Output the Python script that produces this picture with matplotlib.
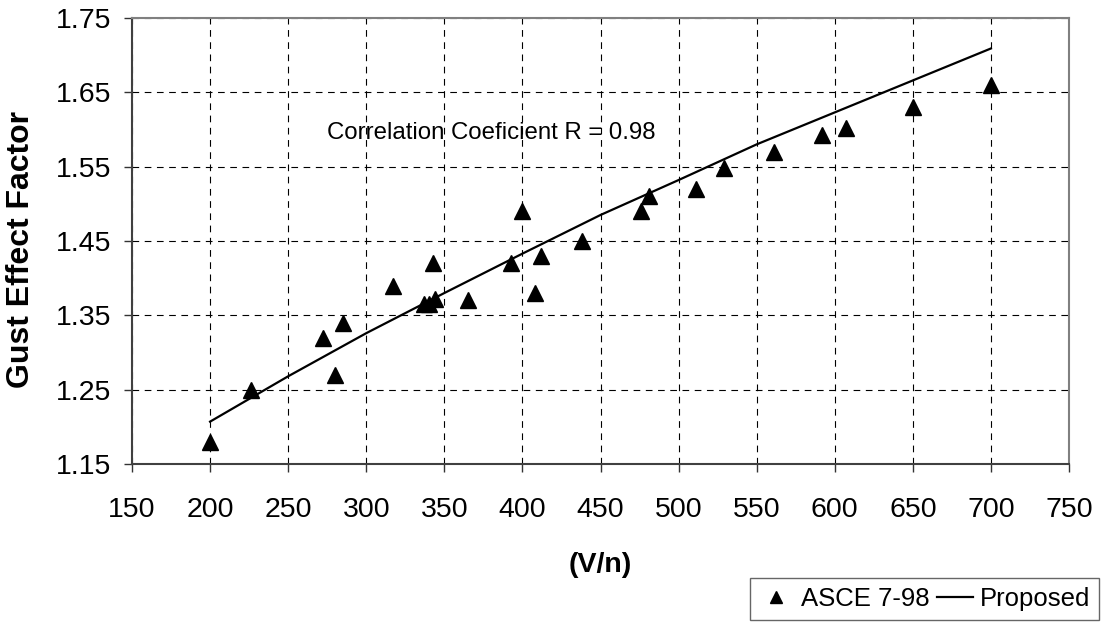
import matplotlib
matplotlib.use("Agg")
import matplotlib.pyplot as plt
from matplotlib.lines import Line2D

plt.rcParams['font.family'] = ['Liberation Sans', 'DejaVu Sans']

# ASCE 7-98 data points
x_asce = [200, 226, 272, 285, 280, 317, 342.5, 337, 340, 344, 365, 393, 400,
          408, 412, 438, 476, 481, 511, 529, 561, 592, 607.5, 650, 700]
y_asce = [1.18, 1.25, 1.32, 1.34, 1.27, 1.39, 1.42, 1.365, 1.365, 1.372, 1.37,
          1.42, 1.49, 1.38, 1.43, 1.45, 1.49, 1.51, 1.52, 1.548, 1.57, 1.592,
          1.602, 1.63, 1.66]

# Proposed curve
x_prop = [200, 250, 300, 350, 400, 450, 500, 550, 600, 650, 700]
y_prop = [1.207, 1.268, 1.326, 1.380, 1.433, 1.485, 1.532, 1.580, 1.623, 1.666, 1.709]

x_ticks = [150, 200, 250, 300, 350, 400, 450, 500, 550, 600, 650, 700, 750]
y_ticks = [1.15, 1.25, 1.35, 1.45, 1.55, 1.65, 1.75]

fig = plt.figure(figsize=(11.02, 6.22), dpi=100)
ax = fig.add_axes([132 / 1102, 1 - 464 / 622, 937 / 1102, 446 / 622])

ax.plot(x_prop, y_prop, color='black', linewidth=1.6, zorder=3)
ax.plot(x_asce, y_asce, linestyle='none', marker='^', markersize=11,
        color='black', zorder=4)

ax.set_xlim(150, 750)
ax.set_ylim(1.15, 1.75)
ax.set_xticks(x_ticks)
ax.set_yticks(y_ticks)
ax.set_yticklabels([f"{v:.2f}" for v in y_ticks])
ax.grid(True, color='black', linestyle=(0, (6, 5)), linewidth=0.8)

ax.tick_params(axis='both', direction='out', length=6, width=1, labelsize=20.5,
               color='#333333')
ax.tick_params(axis='x', pad=18)
ax.tick_params(axis='y', pad=9)

for side in ['top', 'right']:
    ax.spines[side].set_color('#808080')
    ax.spines[side].set_linewidth(1.5)
for side in ['left', 'bottom']:
    ax.spines[side].set_color('#404040')
    ax.spines[side].set_linewidth(1.5)

ax.set_xlabel('(V/n)', fontsize=20.5, fontweight='bold', va='center')
ax.xaxis.set_label_coords(0.5, (464 - 565) / 446)
ax.set_ylabel('Gust Effect Factor', fontsize=23, fontweight='bold', va='center')
ax.yaxis.set_label_coords((21 - 132) / 937, (464 - 250) / 446)

ax.text(380, 1.595, 'Correlation Coeficient R = 0.98', fontsize=17.3,
        ha='center', va='center')

handles = [Line2D([], [], linestyle='none', marker='^', markersize=9, color='black'),
           Line2D([], [], color='black', linewidth=1.6)]
leg = fig.legend(handles, ['ASCE 7-98', 'Proposed'], loc='upper right',
                 bbox_to_anchor=(1099 / 1102, 1 - 578 / 622), ncol=2,
                 fontsize=18.5, frameon=True, fancybox=False, borderaxespad=0,
                 handlelength=1.4, handletextpad=0.25, columnspacing=0.3,
                 borderpad=0.35)
leg.get_frame().set_edgecolor('#404040')
leg.get_frame().set_linewidth(1.0)

fig.savefig('out.png', dpi=100)
